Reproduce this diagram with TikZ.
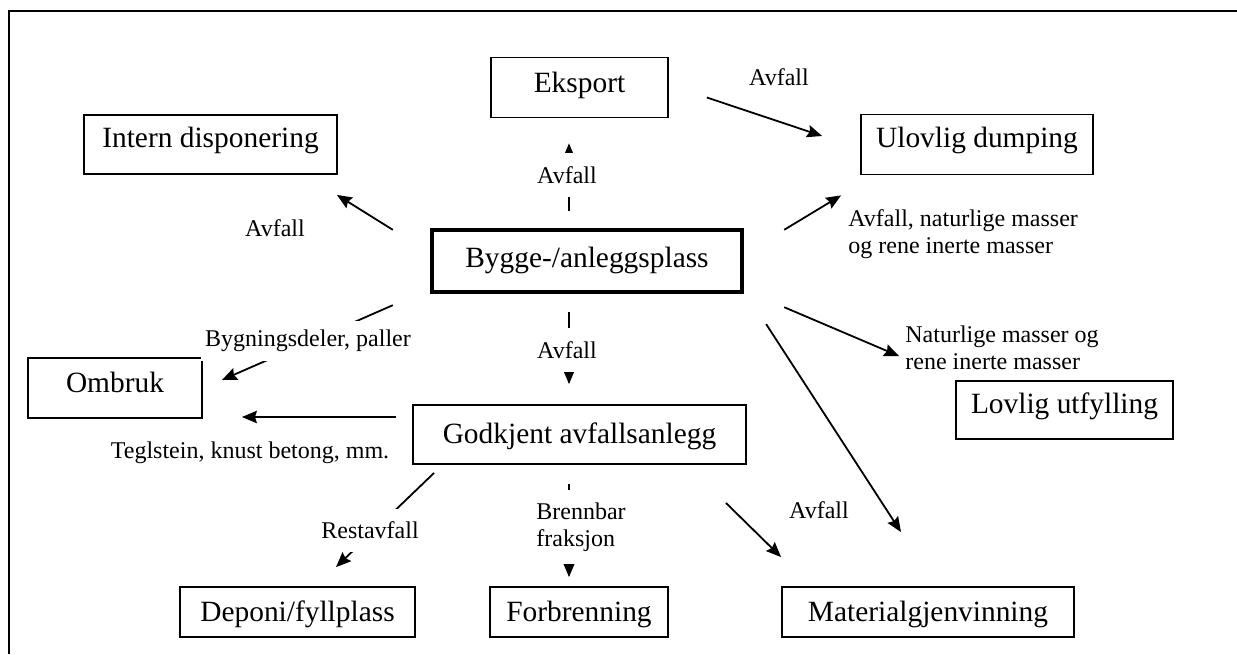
\documentclass[tikz,border=0pt]{standalone}
\usepackage{fontspec}
\setmainfont{Liberation Serif}
\usetikzlibrary{calc,arrows.meta}
\begin{document}
\begin{tikzpicture}[x=0.5pt,y=-0.5pt,
  box/.style={draw,line width=0.9pt,inner sep=0pt,text height=10pt,text depth=0.6pt,font=\fontsize{14.7}{17}\selectfont},
  mainbox/.style={box,line width=2.2pt},
  lab/.style={inner sep=0pt,font=\fontsize{12}{13.5}\selectfont},
  gaplab/.style={lab,fill=white,inner xsep=2pt},
  arr/.style={line width=0.9pt,-{Stealth[length=7.5pt,width=6.2pt,inset=1pt]}},
  frameline/.style={line width=1pt}]
\useasboundingbox (0,0) rectangle (1237,654);
\draw[frameline] (1237,11) -- (8.5,11) -- (8.5,654);

% boxes
\node[box,text depth=4.6pt,minimum width=88.5pt,minimum height=30pt] (eks) at (579.5,87.5) {Eksport};
\node[box,text depth=7pt,minimum width=126.5pt,minimum height=29.5pt] (intern) at (210.5,144.5) {Intern disponering};
\node[box,text depth=6.6pt,minimum width=116pt,minimum height=30pt] (ulov) at (977,144.5) {Ulovlig dumping};
\node[mainbox,text depth=3.8pt,minimum width=155pt,minimum height=31pt] (bygge) at (587,261) {Bygge-/anleggsplass};
\node[box,text depth=5.6pt,minimum width=87pt,minimum height=30pt] (ombruk) at (115,388) {Ombruk};
\node[box,text depth=1.4pt,minimum width=166.5pt,minimum height=29.5pt] (godk) at (579.5,434.5) {Godkjent avfallsanlegg};
\node[box,text depth=7pt,minimum width=108.5pt,minimum height=29pt] (lovlig) at (1064.5,410) {Lovlig utfylling};
\node[box,minimum width=117.5pt,minimum height=25pt] (deponi) at (297.5,612) {Deponi/fyllplass};
\node[box,minimum width=89pt,minimum height=25pt] (forbr) at (579,612) {Forbrenning};
\node[box,minimum width=146pt,minimum height=25pt] (material) at (928,612) {Materialgjenvinning};

% connectors
\draw[arr] ($(bygge.north west)+(-37,2)$) -- ($(intern.south east)+(-1,20)$);
\draw[arr] ($(bygge.north)+(-18,-17)$) -- ($(eks.south)+(-10.5,25)$);
\draw[arr] ($(eks.east)+(38,10)$) -- ($(ulov.west)+(-38,-8.5)$);
\draw[arr] ($(bygge.north east)+(40,2)$) -- ($(ulov.south west)+(-19,20)$);
\draw[arr] ($(bygge.south west)+(-37,11)$) -- ($(ombruk.east)+(19,-8)$);
\draw[arr] ($(bygge.south)+(-18,18)$) -- ($(godk.north)+(-10.5,-20)$);
\draw[arr] ($(godk.west)+(-16,-17.5)$) -- ($(ombruk.east)+(39,29)$);
\draw[arr] ($(bygge.south east)+(40,13)$) -- ($(lovlig.north west)+(-56,-24)$);
\draw[arr] ($(bygge.south east)+(22,30)$) -- ($(material.north)+(-27,-54)$);
\draw[arr] ($(godk.south west)+(22,8)$) -- ($(deponi.north)+(38.5,-19)$);
\draw[arr] ($(godk.south)+(-10.5,19)$) -- ($(forbr.north)+(-10,-9)$);
\draw[arr] ($(godk.south east)+(-21,38)$) -- ($(material.north west)+(0,-29)$);

% labels
\node[lab] (l1) at (275,228) {Avfall};
\node[gaplab,minimum height=22pt] (l2) at (567,175) {Avfall};
\node[lab] (l3) at (779,77) {Avfall};
\node[lab,anchor=west,align=left] (l4) at (848,234.5) {Avfall, naturlige masser\\og rene inerte masser};
\node[gaplab,minimum height=20pt] (l5) at (308,341) {Bygningsdeler, paller};
\node[gaplab,minimum height=22pt] (l6) at (567,350) {Avfall};
\node[lab] (l7) at (250,453) {Teglstein, knust betong, mm.};
\node[lab,anchor=west,align=left] (l8) at (905,347.5) {Naturlige masser og\\rene inerte masser};
\node[gaplab,minimum height=21.5pt] (l10) at (370,530.5) {Restavfall};
\node[gaplab,inner xsep=0pt,minimum height=37pt,anchor=west,align=left] (l11) at (536,527) {Brennbar\\fraksjon};
\node[lab] (l12) at (819,510) {Avfall};
\end{tikzpicture}
\end{document}
